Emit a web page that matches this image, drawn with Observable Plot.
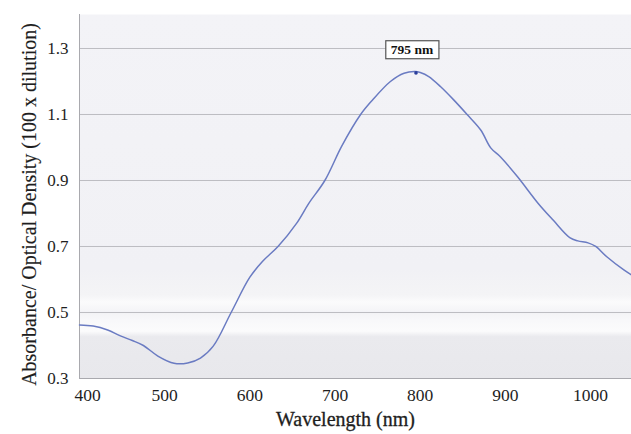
<!DOCTYPE html>
<html>
<head>
<meta charset="utf-8">
<script src="https://cdn.jsdelivr.net/npm/d3@7"></script>
<script src="https://cdn.jsdelivr.net/npm/@observablehq/plot@0.6"></script>
<style>
  html, body { margin: 0; padding: 0; background: #ffffff; }
  #chart svg { display: block; }
</style>
</head>
<body>
<div id="chart"></div>
<script>
// Wavelength (nm)
const wavelength = [400, 416, 433, 448, 462, 475, 492, 511, 527, 542, 557, 578, 600, 615, 633, 655, 669, 688, 708, 730, 744, 765, 781, 794, 800, 810, 824, 839, 855, 871, 883, 894, 914, 938, 956, 976, 985, 997, 1006, 1019, 1039, 1048];
// Absorbance / optical density values
const absorbance = [0.462, 0.459, 0.447, 0.429, 0.415, 0.400, 0.368, 0.346, 0.347, 0.362, 0.398, 0.500, 0.607, 0.655, 0.700, 0.771, 0.830, 0.900, 1.005, 1.100, 1.144, 1.200, 1.225, 1.230, 1.227, 1.215, 1.184, 1.145, 1.100, 1.053, 0.998, 0.972, 0.912, 0.832, 0.780, 0.726, 0.717, 0.711, 0.700, 0.669, 0.629, 0.614];
const xTicks = [400, 500, 600, 700, 800, 900, 1000];
const yTicks = [0.3, 0.5, 0.7, 0.9, 1.1, 1.3];
const xTitle = ["Wavelength (nm)"];
const yTitle = ["Absorbance/ Optical Density (100 x dilution)"];
const peakWavelength = [795];
const peakValue = [1.226];
const peakLabel = ["795 nm"];

const data = wavelength.map((w, i) => ({w, a: absorbance[i]}));
const peak = peakWavelength.map((w, i) => ({w, a: peakValue[i], label: peakLabel[i]}));

const serif = "'Liberation Serif', 'Times New Roman', serif";
const ink = "#1e1e1e";

const chart = Plot.plot({
  width: 631,
  height: 434,
  marginLeft: 79,
  marginRight: 0,
  marginTop: 14,
  marginBottom: 56,
  style: {fontFamily: serif, background: "#ffffff", color: ink},
  x: {domain: [400, 1048], label: null},
  y: {domain: [0.3, 1.403], label: null},
  marks: [
    Plot.frame({fill: "url(#bgGrad)", stroke: null}),
    Plot.gridY(yTicks, {stroke: "#bdbdc2", strokeOpacity: 1, strokeWidth: 1}),
    Plot.axisX(xTicks.slice(1), {tickSize: 0, tickPadding: 10, fontSize: 17.5, tickFormat: d => String(d), label: null}),
    Plot.axisX(xTicks.slice(0, 1), {tickSize: 0, tickPadding: 10, fontSize: 17.5, dx: 8, tickFormat: d => String(d), label: null}),
    Plot.axisY(yTicks, {tickSize: 0, tickPadding: 11, fontSize: 17, tickFormat: d => d.toFixed(1), label: null}),
    Plot.ruleY([0.3], {stroke: "#a9a9ae"}),
    Plot.ruleX([400], {stroke: "#a9a9ae"}),
    Plot.line(data, {x: "w", y: "a", stroke: "#6a7bc2", strokeWidth: 1.5, curve: "catmull-rom"}),
    Plot.dot(peak, {x: "w", y: "a", r: 1.8, fill: "#2b3f9c", stroke: null}),
    Plot.text(peak, {x: "w", y: "a", text: "label", dy: -23, dx: -4, fontSize: 13.5, fontWeight: "bold", fill: "#111"}),
    Plot.text(xTitle, {text: d => d, frameAnchor: "bottom", dy: 47, dx: -10, fontSize: 20, fill: ink, stroke: ink, strokeWidth: 0.3}),
    Plot.text(yTitle, {text: d => d, frameAnchor: "left", textAnchor: "middle", rotate: -90, dx: -50, dy: 8, fontSize: 20, fill: ink, stroke: ink, strokeWidth: 0.15})
  ]
});

// gradient background of the plot area
const svg = d3.select(chart);
const defs = svg.insert("defs", ":first-child");
const g = defs.append("linearGradient").attr("id", "bgGrad").attr("x1", 0).attr("y1", 0).attr("x2", 0).attr("y2", 1);
[[0, "#f3f3f7"], [0.70, "#f1f1f5"], [0.77, "#f4f4f6"], [0.79, "#fbfbfc"], [0.82, "#f3f3f6"], [0.84, "#f8f8fa"], [0.87, "#fbfbfc"], [0.885, "#eaeaee"], [1, "#e8e8ec"]]
  .forEach(([o, c]) => g.append("stop").attr("offset", o).attr("stop-color", c));

document.getElementById("chart").appendChild(chart);

// box around peak label, sized from the rendered text
svg.selectAll("text").filter(function() { return peakLabel.includes(this.textContent); }).each(function() {
  const b = this.getBBox();
  d3.select(this.parentNode).insert("rect", () => this)
    .attr("x", b.x - 5).attr("y", b.y - 1.5)
    .attr("width", b.width + 10).attr("height", b.height + 3)
    .attr("transform", this.getAttribute("transform"))
    .attr("fill", "#ffffff").attr("stroke", "#555").attr("stroke-width", 1.2);
});
</script>
</body>
</html>
